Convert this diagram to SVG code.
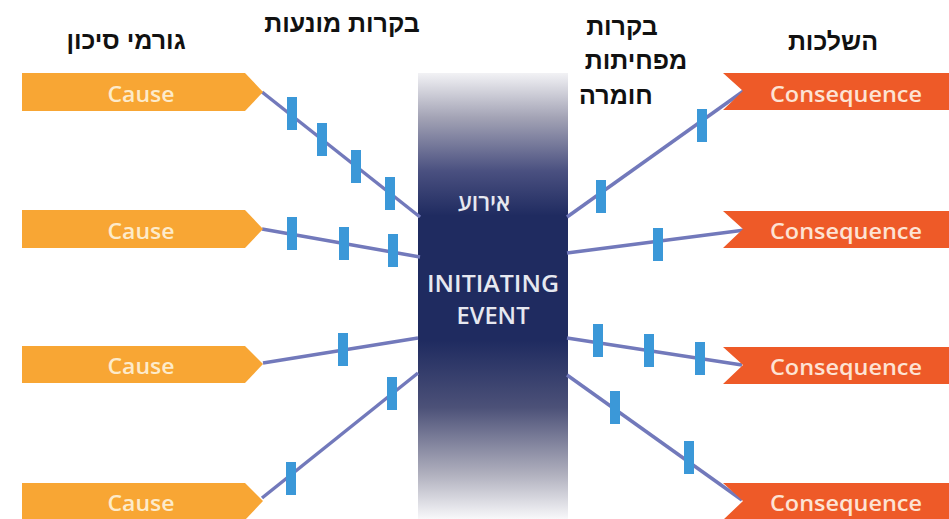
<svg xmlns="http://www.w3.org/2000/svg" width="949" height="519" viewBox="0 0 949 519">
<defs>
<linearGradient id="barGrad" x1="0" y1="73" x2="0" y2="519" gradientUnits="userSpaceOnUse">
<stop offset="0" stop-color="#f2f2f5"/>
<stop offset="0.1" stop-color="#a3a3b5"/>
<stop offset="0.22" stop-color="#4a5080"/>
<stop offset="0.32" stop-color="#1f2b60"/>
<stop offset="0.6" stop-color="#1f2b60"/>
<stop offset="0.75" stop-color="#4c5178"/>
<stop offset="0.9" stop-color="#b0b0be"/>
<stop offset="1" stop-color="#f8f8fa"/>
</linearGradient>
<style>
.hdr{font-family:"Liberation Sans",Arial,sans-serif;font-weight:bold;font-size:25px;fill:#111;text-anchor:middle}
.cause{fill:#f8a634}
.cons{fill:#ee5a28}
.lbl{font-family:"Open Sans","Liberation Sans",sans-serif;font-weight:600;font-size:21px;text-anchor:middle}
.clbl{fill:#fdebcb}
.qlbl{fill:#fde3d4}
.link{stroke:#7279bb;stroke-width:3.5;fill:none}
.bar{fill:#3b98d8}
.evt{font-family:"Open Sans","Liberation Sans",sans-serif;font-weight:600;fill:#e6e8f0;text-anchor:middle}
</style>
</defs>
<rect width="949" height="519" fill="#ffffff"/>

<g id="headers">
<text class="hdr" x="126" y="49">גורמי סיכון</text>
<text class="hdr" x="342" y="32">בקרות מונעות</text>
<text class="hdr" x="622" y="35">בקרות</text>
<text class="hdr" x="636" y="69">מפחיתות</text>
<text class="hdr" x="616" y="104">חומרה</text>
<text class="hdr" x="833" y="50">השלכות</text>
</g>

<g id="event">
<rect x="418" y="73" width="150" height="446" fill="url(#barGrad)"/>
<text class="evt" x="484" y="211" font-family="Liberation Sans" font-weight="bold" font-size="23">אירוע</text>
<text class="evt" x="493" y="292" font-size="24" textLength="132" lengthAdjust="spacingAndGlyphs">INITIATING</text>
<text class="evt" x="493" y="324" font-size="24" textLength="73" lengthAdjust="spacingAndGlyphs">EVENT</text>
</g>

<g id="connectors">
<line class="link" x1="262" y1="92" x2="420" y2="217"/>
<line class="link" x1="262" y1="229" x2="420" y2="257"/>
<line class="link" x1="263" y1="363" x2="418" y2="338"/>
<line class="link" x1="262" y1="498" x2="418" y2="373"/>
<line class="link" x1="567" y1="217" x2="745" y2="90"/>
<line class="link" x1="567" y1="253" x2="745" y2="230"/>
<line class="link" x1="567" y1="338" x2="742" y2="365"/>
<line class="link" x1="567" y1="375" x2="742" y2="500"/>
</g>

<g id="barriers">
<rect class="bar" x="287" y="97" width="10" height="33"/>
<rect class="bar" x="317" y="123" width="10" height="33"/>
<rect class="bar" x="351" y="150" width="10" height="33"/>
<rect class="bar" x="385" y="177" width="10" height="33"/>
<rect class="bar" x="287" y="217" width="10" height="33"/>
<rect class="bar" x="339" y="227" width="10" height="33"/>
<rect class="bar" x="388" y="234" width="10" height="33"/>
<rect class="bar" x="338" y="333" width="10" height="33"/>
<rect class="bar" x="286" y="462" width="10" height="33"/>
<rect class="bar" x="387" y="377" width="10" height="33"/>
<rect class="bar" x="596" y="180" width="10" height="33"/>
<rect class="bar" x="697" y="109" width="10" height="33"/>
<rect class="bar" x="653" y="228" width="10" height="33"/>
<rect class="bar" x="593" y="324" width="10" height="33"/>
<rect class="bar" x="644" y="334" width="10" height="33"/>
<rect class="bar" x="695" y="342" width="10" height="33"/>
<rect class="bar" x="610" y="391" width="10" height="33"/>
<rect class="bar" x="684" y="441" width="10" height="33"/>
</g>

<g id="cause1">
<polygon class="cause" points="22,73 245,73 263,92 245,111 22,111"/>
<text class="lbl clbl" x="141" y="102" textLength="67" lengthAdjust="spacingAndGlyphs">Cause</text>
</g>
<g id="cause2">
<polygon class="cause" points="22,210 245,210 263,229 245,248 22,248"/>
<text class="lbl clbl" x="141" y="239" textLength="67" lengthAdjust="spacingAndGlyphs">Cause</text>
</g>
<g id="cause3">
<polygon class="cause" points="22,346 245,346 263,364 245,383 22,383"/>
<text class="lbl clbl" x="141" y="374" textLength="67" lengthAdjust="spacingAndGlyphs">Cause</text>
</g>
<g id="cause4">
<polygon class="cause" points="22,483 245,483 263,501 245,520 22,520"/>
<text class="lbl clbl" x="141" y="511" textLength="67" lengthAdjust="spacingAndGlyphs">Cause</text>
</g>

<g id="consequence1">
<polygon class="cons" points="723,73 949,73 949,110 723,110 743,91"/>
<text class="lbl qlbl" x="846" y="102" textLength="152" lengthAdjust="spacingAndGlyphs">Consequence</text>
</g>
<g id="consequence2">
<polygon class="cons" points="723,211 949,211 949,248 723,248 743,229"/>
<text class="lbl qlbl" x="846" y="239" textLength="152" lengthAdjust="spacingAndGlyphs">Consequence</text>
</g>
<g id="consequence3">
<polygon class="cons" points="723,347 949,347 949,384 723,384 743,365"/>
<text class="lbl qlbl" x="846" y="375" textLength="152" lengthAdjust="spacingAndGlyphs">Consequence</text>
</g>
<g id="consequence4">
<polygon class="cons" points="723,483 949,483 949,520 723,520 743,501"/>
<text class="lbl qlbl" x="846" y="511" textLength="152" lengthAdjust="spacingAndGlyphs">Consequence</text>
</g>
</svg>
